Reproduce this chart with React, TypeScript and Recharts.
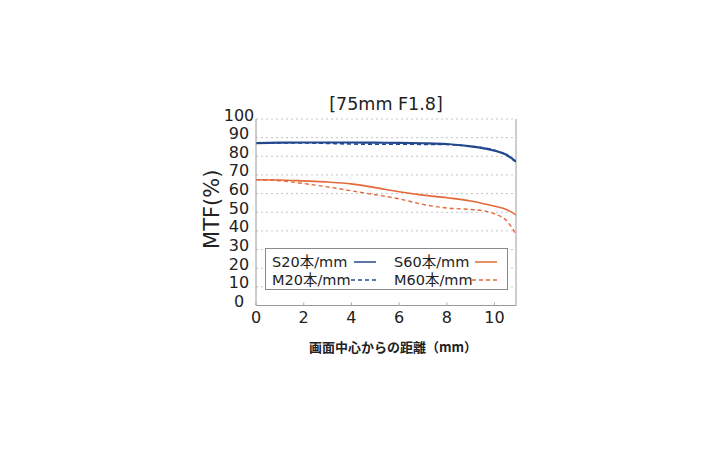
import React from 'react';
import { LineChart, Line, XAxis, YAxis, CartesianGrid, Legend, ReferenceLine } from 'recharts';

const distances = [0, 1, 2, 3, 4, 5, 6, 7, 8, 9, 9.5, 10, 10.5, 10.9];
const s20 = [87.1, 87.3, 87.4, 87.4, 87.4, 87.3, 87.2, 87.0, 86.6, 85.3, 84.4, 83.0, 80.8, 77.2];
const m20 = [87.1, 87.2, 87.2, 86.9, 86.6, 86.5, 86.5, 86.4, 86.3, 85.4, 84.6, 83.3, 80.6, 77.0];
const s60 = [67.4, 67.3, 66.8, 66.2, 65.2, 63.2, 61.0, 59.2, 57.8, 56.0, 54.7, 53.2, 51.5, 48.6];
const m60 = [67.4, 66.9, 65.4, 63.6, 61.5, 59.4, 57.2, 54.2, 52.3, 51.5, 50.9, 49.2, 45.5, 38.2];

const xTicks = [0, 2, 4, 6, 8, 10];
const yTicks = [0, 10, 20, 30, 40, 50, 60, 70, 80, 90, 100];
const xMax = 10.9;

const title = '[75mm F1.8]';
const yLabel = 'MTF(%)';
const xLabel = '画面中心からの距離（mm）';

const BLUE = '#23488f';
const ORANGE = '#e5683a';
const FONT = '"DejaVu Sans", "Noto Sans CJK JP", sans-serif';

const series = [
  { key: 's20', name: 'S20本/mm', values: s20, color: BLUE, dash: undefined as string | undefined, width: 2.2 },
  { key: 's60', name: 'S60本/mm', values: s60, color: ORANGE, dash: undefined as string | undefined, width: 1.6 },
  { key: 'm20', name: 'M20本/mm', values: m20, color: BLUE, dash: '4 3', width: 1.6 },
  { key: 'm60', name: 'M60本/mm', values: m60, color: ORANGE, dash: '4 3', width: 1.4 },
];

const data = distances.map((d, i) => ({
  d,
  s20: s20[i],
  m20: m20[i],
  s60: s60[i],
  m60: m60[i],
}));

const XTick = (props: any) => {
  const { x, y, payload } = props;
  return (
    <g>
      <line x1={x} x2={x} y1={y} y2={y - 3} stroke="#aaa" strokeWidth={1} />
      <text x={x} y={y + 12} textAnchor="middle" dominantBaseline="central" fontSize={16} fill="#222" fontFamily={FONT}>
        {payload.value}
      </text>
    </g>
  );
};

const YTick = (props: any) => {
  const { x, y, payload } = props;
  return (
    <text x={x - 17} y={y - 4} textAnchor="middle" dominantBaseline="central" fontSize={16} fill="#222" fontFamily={FONT}>
      {payload.value}
    </text>
  );
};

const LegendBox = () => {
  const positions = [
    { left: 7, top: 13.7, lineLeft: 89, lineRight: 111 },
    { left: 129, top: 13.7, lineLeft: 210, lineRight: 232 },
    { left: 7, top: 32, lineLeft: 86, lineRight: 111 },
    { left: 129, top: 32, lineLeft: 207, lineRight: 232 },
  ];
  return (
    <div
      style={{
        position: 'relative',
        width: 243,
        height: 42,
        border: '1px solid #8a8a8a',
        background: '#fff',
        boxSizing: 'border-box',
        fontFamily: FONT,
        fontSize: 14.5,
        color: '#222',
      }}
    >
      {series.map((s, i) => {
        const p = positions[i];
        const ll = p.lineLeft;
        const lr = p.lineRight;
        return (
          <React.Fragment key={s.key}>
            <span
              style={{
                position: 'absolute',
                left: p.left - 1,
                top: p.top - 1 - 9,
                lineHeight: '18px',
                whiteSpace: 'nowrap',
              }}
            >
              {s.name}
            </span>
            <svg
              style={{ position: 'absolute', left: ll - 1, top: p.top - 1 - 3 }}
              width={lr - ll}
              height={6}
            >
              <line x1={0} x2={lr - ll} y1={3} y2={3} stroke={s.color} strokeWidth={1.5} strokeDasharray={s.dash} />
            </svg>
          </React.Fragment>
        );
      })}
    </div>
  );
};

export default function App() {
  return (
    <div style={{ position: 'absolute', left: 0, top: 0, width: 720, height: 450, background: '#fff' }}>
      <div
        style={{
          position: 'absolute',
          left: 286,
          top: 93,
          width: 200,
          textAlign: 'center',
          fontFamily: FONT,
          fontSize: 17.5,
          lineHeight: '22px',
          color: '#222',
        }}
      >
        {title}
      </div>
      <LineChart
        width={720}
        height={450}
        data={data}
        margin={{ top: 119, right: 204, bottom: 114.5, left: 216 }}
      >
        <CartesianGrid vertical={false} stroke="#c4c4c4" strokeDasharray="2 3" />
        <XAxis
          dataKey="d"
          type="number"
          domain={[0, xMax]}
          ticks={xTicks}
          allowDataOverflow
          height={30}
          tickLine={false}
          tickSize={0}
          tickMargin={0}
          axisLine={{ stroke: '#9a9a9a' }}
          tick={<XTick />}
          interval={0}
          label={{
            content: (p: any) => {
              const vb = p.viewBox;
              return (
                <text
                  x={vb.x + vb.width / 2 + 7}
                  y={vb.y + 40.5}
                  textAnchor="middle"
                  dominantBaseline="central"
                  fontSize={13}
                  fontWeight="bold"
                  fill="#222"
                  fontFamily='"Noto Sans CJK JP", sans-serif'
                >
                  {xLabel}
                </text>
              );
            },
          }}
        />
        <YAxis
          type="number"
          domain={[0, 100]}
          ticks={yTicks}
          width={40}
          tickLine={false}
          tickSize={0}
          tickMargin={0}
          axisLine={{ stroke: '#9a9a9a' }}
          tick={<YTick />}
          interval={0}
          label={{
            content: (p: any) => {
              const vb = p.viewBox;
              const cx = vb.x - 4;
              const cy = vb.y + vb.height / 2 - 3;
              return (
                <text
                  x={cx}
                  y={cy}
                  transform={`rotate(-90 ${cx} ${cy})`}
                  textAnchor="middle"
                  dominantBaseline="central"
                  fontSize={21}
                  fill="#222"
                  fontFamily={FONT}
                >
                  {yLabel}
                </text>
              );
            },
          }}
        />
        <ReferenceLine x={xMax} stroke="#9a9a9a" strokeWidth={1} />
        {series.map((s) => (
          <Line
            key={s.key}
            dataKey={s.key}
            name={s.name}
            type="monotone"
            stroke={s.color}
            strokeWidth={s.width}
            strokeDasharray={s.dash}
            dot={false}
            activeDot={false}
            isAnimationActive={false}
          />
        ))}
        <Legend
          layout="horizontal"
          verticalAlign="middle"
          align="center"
          content={<LegendBox />}
          wrapperStyle={{ position: 'absolute', left: 265, top: 248, width: 243, height: 42 }}
        />
      </LineChart>
    </div>
  );
}
